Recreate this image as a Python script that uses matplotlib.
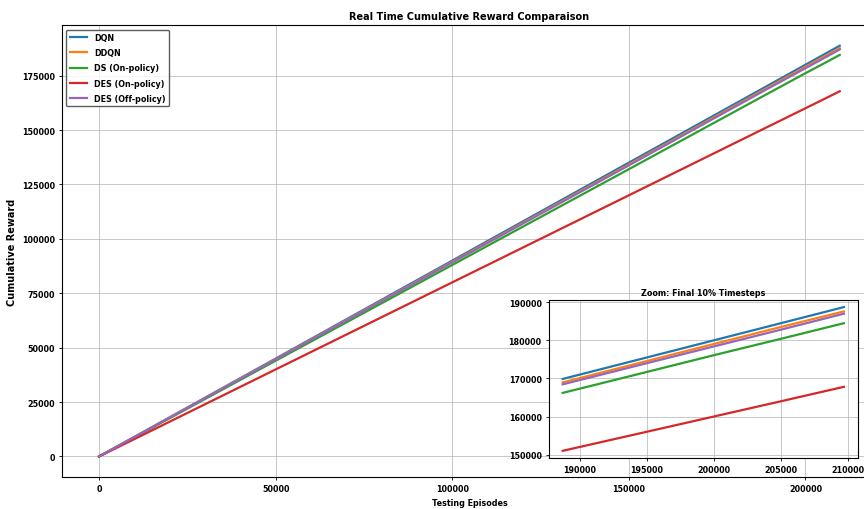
import numpy as np
import matplotlib
matplotlib.use("Agg")
import matplotlib.pyplot as plt

# checkpoints along the testing run (episodes)
episodes = [0, 50000, 100000, 150000, 188730, 195000, 200000, 205000, 209700]

# cumulative reward at each checkpoint
dqn = [0, 45000, 90000, 135000, 169860, 175500, 180000, 184500, 188730]
ddqn = [0, 44730, 89460, 134190, 168960, 174560, 179040, 183500, 187600]
ds_on = [0, 44000, 88000, 132000, 166200, 171700, 176100, 180400, 184500]
des_on = [0, 40000, 80000, 120000, 151000, 156000, 160000, 164000, 167800]
des_off = [0, 44590, 89180, 133760, 168450, 174000, 178400, 182800, 187000]

labels = ["DQN", "DDQN", "DS (On-policy)", "DES (On-policy)", "DES (Off-policy)"]
colors = ["#1f77b4", "#ff7f0e", "#2ca02c", "#d62728", "#9467bd"]
series = [dqn, ddqn, ds_on, des_on, des_off]

zoom_start = 188730

plt.rcParams['font.weight'] = 'bold'
plt.rcParams['axes.titleweight'] = 'bold'
plt.rcParams['axes.labelweight'] = 'bold'
plt.rcParams['xtick.major.size'] = 2.5
plt.rcParams['ytick.major.size'] = 2.5
plt.rcParams['xtick.major.pad'] = 2.5
plt.rcParams['ytick.major.pad'] = 2.5
plt.rcParams['xtick.major.width'] = 0.6
plt.rcParams['ytick.major.width'] = 0.6
plt.rcParams['axes.linewidth'] = 0.8
plt.rcParams['axes.titlepad'] = 4.5
plt.rcParams['axes.labelpad'] = 3.5

fig = plt.figure(figsize=(8.64, 5.10), dpi=100)
ax = fig.add_axes([0.0718, 0.0627, 0.943, 0.886])

x = np.array(episodes)
for vals, lab, c in zip(series, labels, colors):
    ax.plot(x, vals, color=c, lw=1.6, label=lab)

ax.set_title("Real Time Cumulative Reward Comparaison", fontsize=7)
ax.set_xlabel("Testing Episodes", fontsize=5.8)
ax.set_ylabel("Cumulative Reward", fontsize=7)
ax.tick_params(labelsize=5.8)
ax.grid(True, color="#b0b0b0", alpha=0.7, lw=0.7)
ax.legend(loc="upper left", fontsize=5.8, handlelength=2.2, labelspacing=0.78,
          edgecolor="#333333", borderaxespad=0.55)

# inset: final 10% of the run
ins = fig.add_axes([0.635, 0.10, 0.358, 0.31])
mask = x >= zoom_start
for vals, c in zip(series, colors):
    ins.plot(x[mask], np.array(vals)[mask], color=c, lw=1.6)
ins.set_title("Zoom: Final 10% Timesteps", fontsize=5.8, pad=3.5)
ins.tick_params(labelsize=5.8)
ins.set_xticks([190000, 195000, 200000, 205000, 210000])
ins.set_yticks([150000, 160000, 170000, 180000, 190000])
ins.grid(True, color="#b0b0b0", alpha=0.7, lw=0.7)

fig.savefig("out.png", dpi=100)
